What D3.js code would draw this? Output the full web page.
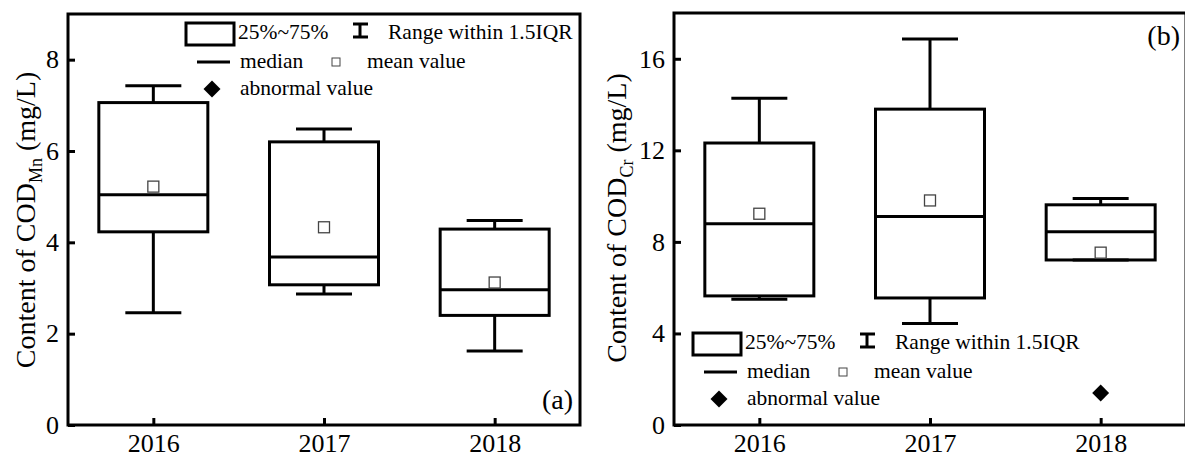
<!DOCTYPE html>
<html>
<head>
<meta charset="utf-8">
<script src="https://cdn.jsdelivr.net/npm/d3@7"></script>
<style>
  body { margin: 0; background: #fff; }
  svg { display: block; font-family: "Liberation Serif", "Times New Roman", serif; }
</style>
</head>
<body>
<script>
"use strict";

// ---- data ----
const years = [2016, 2017, 2018];

// (a) COD_Mn
const mnLow    = [2.46, 2.87, 1.62];
const mnQ1     = [4.23, 3.07, 2.40];
const mnMedian = [5.04, 3.68, 2.96];
const mnQ3     = [7.06, 6.20, 4.29];
const mnHigh   = [7.43, 6.48, 4.48];
const mnMean   = [5.22, 4.33, 3.12];
const mnOutliers = [];
const mnTicks  = [0, 2, 4, 6, 8];

// (b) COD_Cr
const crLow    = [5.49, 4.43, 7.21];
const crQ1     = [5.64, 5.55, 7.21];
const crMedian = [8.79, 9.11, 8.44];
const crQ3     = [12.32, 13.80, 9.62];
const crHigh   = [14.28, 16.86, 9.90];
const crMean   = [9.23, 9.81, 7.53];
const crOutliers = [{ year: 2018, value: 1.4 }];
const crTicks  = [0, 4, 8, 12, 16];

const width = 1185, height = 458;

let svg = d3.select("body").append("svg")
  .attr("width", width).attr("height", height);

function panel(opt) {
  let x = d3.scaleLinear().domain([2015.5, 2018.5]).range([opt.left, opt.right]);
  let y = d3.scaleLinear().domain([0, opt.yMax]).range([opt.bottom, opt.top]);
  let g = svg.append("g");

  let boxes = years.map((yr, i) => ({
    year: yr, low: opt.low[i], q1: opt.q1[i], med: opt.median[i],
    q3: opt.q3[i], high: opt.high[i], mean: opt.mean[i]
  }));

  let boxW = 109, capW = 56;

  let b = g.selectAll(".box").data(boxes).enter().append("g").attr("class", "box");
  // whiskers
  b.append("line")
    .attr("x1", d => x(d.year)).attr("x2", d => x(d.year))
    .attr("y1", d => y(d.q3)).attr("y2", d => y(d.high))
    .attr("stroke", "#000").attr("stroke-width", 3);
  b.append("line")
    .attr("x1", d => x(d.year)).attr("x2", d => x(d.year))
    .attr("y1", d => y(d.q1)).attr("y2", d => y(d.low))
    .attr("stroke", "#000").attr("stroke-width", 3);
  b.append("line")
    .attr("x1", d => x(d.year) - capW / 2).attr("x2", d => x(d.year) + capW / 2)
    .attr("y1", d => y(d.high)).attr("y2", d => y(d.high))
    .attr("stroke", "#000").attr("stroke-width", 3);
  b.append("line")
    .attr("x1", d => x(d.year) - capW / 2).attr("x2", d => x(d.year) + capW / 2)
    .attr("y1", d => y(d.low)).attr("y2", d => y(d.low))
    .attr("stroke", "#000").attr("stroke-width", 3);
  // box
  b.append("rect")
    .attr("x", d => x(d.year) - boxW / 2).attr("width", boxW)
    .attr("y", d => y(d.q3)).attr("height", d => y(d.q1) - y(d.q3))
    .attr("fill", "none").attr("stroke", "#000").attr("stroke-width", 3);
  // median
  b.append("line")
    .attr("x1", d => x(d.year) - boxW / 2).attr("x2", d => x(d.year) + boxW / 2)
    .attr("y1", d => y(d.med)).attr("y2", d => y(d.med))
    .attr("stroke", "#000").attr("stroke-width", 3);
  // mean
  b.append("rect")
    .attr("x", d => x(d.year) - 5.5).attr("y", d => y(d.mean) - 5.5)
    .attr("width", 11).attr("height", 11)
    .attr("fill", "#fff").attr("stroke", "#444").attr("stroke-width", 1.3);

  // outliers
  g.selectAll(".out").data(opt.outliers).enter().append("path")
    .attr("d", d3.symbol(d3.symbolSquare, 144))
    .attr("transform", d => "translate(" + x(d.year) + "," + y(d.value) + ") rotate(45)")
    .attr("fill", "#000");

  // axes, ticks pointing inward
  let ya = g.append("g").attr("transform", "translate(" + opt.left + ",0)")
    .call(d3.axisLeft(y).tickValues(opt.ticks).tickSize(-7).tickSizeOuter(0).tickPadding(9));
  let xa = g.append("g").attr("transform", "translate(0," + opt.bottom + ")")
    .call(d3.axisBottom(x).tickValues(years).tickFormat(d3.format("d"))
      .tickSize(-7).tickSizeOuter(0).tickPadding(9));
  [ya, xa].forEach(a => {
    a.select(".domain").remove();
    a.selectAll(".tick line").attr("stroke", "#000").attr("stroke-width", 3);
    a.selectAll(".tick text").attr("fill", "#000").style("font-size", "26px")
      .style("font-family", "Liberation Serif");
  });
  xa.selectAll(".tick text").attr("dy", "0.68em");

  // frame
  g.append("rect")
    .attr("x", opt.left).attr("y", opt.top)
    .attr("width", opt.right - opt.left).attr("height", opt.bottom - opt.top)
    .attr("fill", "none").attr("stroke", "#000").attr("stroke-width", 3);

  // y title
  let t = g.append("text")
    .attr("transform", "translate(" + opt.titleX + "," + opt.titleY + ") rotate(-90)")
    .attr("text-anchor", "middle").style("font-size", "28px");
  t.append("tspan").text("Content of COD");
  t.append("tspan").attr("dy", 7).style("font-size", "18px").text(opt.sub);
  t.append("tspan").attr("dy", -7).text(" (mg/L)");

  // panel letter
  g.append("text").attr("x", opt.labelX).attr("y", opt.labelY)
    .attr("text-anchor", "end").style("font-size", "28px").text(opt.label);

  legend(opt.legendX, opt.legendY);
}

function legend(lx, ly) {
  let l = svg.append("g").attr("transform", "translate(" + lx + "," + ly + ")")
    .style("font-size", "21.5px");
  l.append("rect").attr("x", 0).attr("y", 0).attr("width", 48).attr("height", 22)
    .attr("fill", "none").attr("stroke", "#000").attr("stroke-width", 3);
  l.append("text").attr("x", 52).attr("y", 16).text("25%~75%");
  l.append("line").attr("x1", 174).attr("x2", 174).attr("y1", 1).attr("y2", 14)
    .attr("stroke", "#000").attr("stroke-width", 3);
  l.append("line").attr("x1", 167).attr("x2", 182).attr("y1", 1).attr("y2", 1)
    .attr("stroke", "#000").attr("stroke-width", 3);
  l.append("line").attr("x1", 167).attr("x2", 182).attr("y1", 14).attr("y2", 14)
    .attr("stroke", "#000").attr("stroke-width", 3);
  l.append("text").attr("x", 202).attr("y", 16).text("Range within 1.5IQR");

  l.append("line").attr("x1", 11).attr("x2", 44).attr("y1", 39).attr("y2", 39)
    .attr("stroke", "#000").attr("stroke-width", 3);
  l.append("text").attr("x", 54).attr("y", 45).text("median");
  l.append("rect").attr("x", 146).attr("y", 35).attr("width", 8).attr("height", 8)
    .attr("fill", "#fff").attr("stroke", "#444").attr("stroke-width", 1);
  l.append("text").attr("x", 181).attr("y", 45).text("mean value");

  l.append("path").attr("d", d3.symbol(d3.symbolSquare, 144))
    .attr("transform", "translate(26,66) rotate(45)").attr("fill", "#000");
  l.append("text").attr("x", 54).attr("y", 72).text("abnormal value");
}

panel({
  left: 68, right: 580, top: 14, bottom: 425, yMax: 9,
  low: mnLow, q1: mnQ1, median: mnMedian, q3: mnQ3, high: mnHigh, mean: mnMean,
  outliers: mnOutliers, ticks: mnTicks, sub: "Mn",
  titleX: 35, titleY: 220, label: "(a)", labelX: 573, labelY: 409,
  legendX: 186, legendY: 23
});

panel({
  left: 674, right: 1186, top: 13, bottom: 425, yMax: 18,
  low: crLow, q1: crQ1, median: crMedian, q3: crQ3, high: crHigh, mean: crMean,
  outliers: crOutliers, ticks: crTicks, sub: "Cr",
  titleX: 626, titleY: 218, label: "(b)", labelX: 1180, labelY: 45,
  legendX: 693, legendY: 333
});
</script>
</body>
</html>
